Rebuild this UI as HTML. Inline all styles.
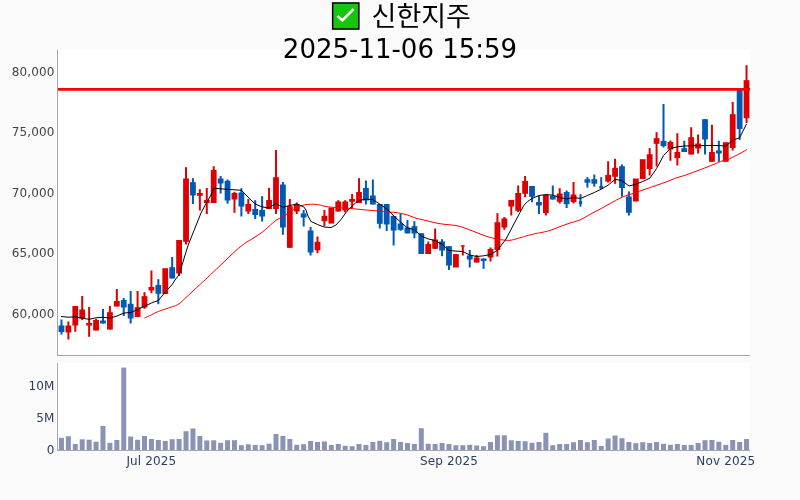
<!DOCTYPE html>
<html lang="ko"><head><meta charset="utf-8"><title>신한지주</title>
<style>
html,body{margin:0;padding:0;background:#fafafa;}
body{width:800px;height:500px;overflow:hidden;}
svg{display:block;}
text{font-family:"DejaVu Sans","Liberation Sans","Noto Sans CJK KR",sans-serif;}
.yt{font-size:12px;fill:#444;text-anchor:end;letter-spacing:0.12px;}
.vt{font-size:12px;fill:#2a3f5f;text-anchor:end;letter-spacing:0.12px;}
.xt{font-size:12px;fill:#2a3f5f;text-anchor:middle;letter-spacing:0.15px;}
.ti{font-size:26px;fill:#000;}
</style></head><body>
<svg width="800" height="500" viewBox="0 0 800 500">
<rect x="0" y="0" width="800" height="500" fill="#fafafa"/>
<rect x="56" y="50" width="694" height="306" fill="#fff"/>
<rect x="56" y="363" width="694" height="88" fill="#fff"/>

<g fill="#8a93b3">
<rect x="58.96" y="437.8" width="5" height="12.2"/>
<rect x="65.88" y="436.2" width="5" height="13.8"/>
<rect x="72.8" y="444" width="5" height="6"/>
<rect x="79.72" y="439.3" width="5" height="10.7"/>
<rect x="86.64" y="439.7" width="5" height="10.3"/>
<rect x="93.56" y="441.7" width="5" height="8.3"/>
<rect x="100.48" y="426" width="5" height="24"/>
<rect x="107.4" y="442.8" width="5" height="7.2"/>
<rect x="114.32" y="440" width="5" height="10"/>
<rect x="121.24" y="367.6" width="5" height="82.4"/>
<rect x="128.16" y="436.5" width="5" height="13.5"/>
<rect x="135.08" y="439.8" width="5" height="10.2"/>
<rect x="142" y="436" width="5" height="14"/>
<rect x="148.92" y="439" width="5" height="11"/>
<rect x="155.84" y="440" width="5" height="10"/>
<rect x="162.76" y="441" width="5" height="9"/>
<rect x="169.68" y="439.2" width="5" height="10.8"/>
<rect x="176.6" y="439" width="5" height="11"/>
<rect x="183.52" y="431.2" width="5" height="18.8"/>
<rect x="190.44" y="428.5" width="5" height="21.5"/>
<rect x="197.36" y="436" width="5" height="14"/>
<rect x="204.28" y="440.5" width="5" height="9.5"/>
<rect x="211.2" y="440.3" width="5" height="9.7"/>
<rect x="218.12" y="442.8" width="5" height="7.2"/>
<rect x="225.04" y="440.2" width="5" height="9.8"/>
<rect x="231.96" y="440.2" width="5" height="9.8"/>
<rect x="238.88" y="445.2" width="5" height="4.8"/>
<rect x="245.8" y="444.3" width="5" height="5.7"/>
<rect x="252.72" y="445" width="5" height="5"/>
<rect x="259.64" y="445.2" width="5" height="4.8"/>
<rect x="266.56" y="443.7" width="5" height="6.3"/>
<rect x="273.48" y="434" width="5" height="16"/>
<rect x="280.4" y="436" width="5" height="14"/>
<rect x="287.32" y="439" width="5" height="11"/>
<rect x="294.24" y="444.8" width="5" height="5.2"/>
<rect x="301.16" y="444.2" width="5" height="5.8"/>
<rect x="308.08" y="441" width="5" height="9"/>
<rect x="315" y="442" width="5" height="8"/>
<rect x="321.92" y="441.5" width="5" height="8.5"/>
<rect x="328.84" y="445" width="5" height="5"/>
<rect x="335.76" y="444" width="5" height="6"/>
<rect x="342.68" y="445.8" width="5" height="4.2"/>
<rect x="349.6" y="446.2" width="5" height="3.8"/>
<rect x="356.52" y="444" width="5" height="6"/>
<rect x="363.44" y="445" width="5" height="5"/>
<rect x="370.36" y="442" width="5" height="8"/>
<rect x="377.28" y="440.8" width="5" height="9.2"/>
<rect x="384.2" y="442.2" width="5" height="7.8"/>
<rect x="391.12" y="439" width="5" height="11"/>
<rect x="398.04" y="442" width="5" height="8"/>
<rect x="404.96" y="443" width="5" height="7"/>
<rect x="411.88" y="444" width="5" height="6"/>
<rect x="418.8" y="428.2" width="5" height="21.8"/>
<rect x="425.72" y="443.8" width="5" height="6.2"/>
<rect x="432.64" y="444" width="5" height="6"/>
<rect x="439.56" y="443" width="5" height="7"/>
<rect x="446.48" y="444" width="5" height="6"/>
<rect x="453.4" y="445.2" width="5" height="4.8"/>
<rect x="460.32" y="445.2" width="5" height="4.8"/>
<rect x="467.24" y="444.8" width="5" height="5.2"/>
<rect x="474.16" y="445.5" width="5" height="4.5"/>
<rect x="481.08" y="446.2" width="5" height="3.8"/>
<rect x="488" y="442" width="5" height="8"/>
<rect x="494.92" y="435.3" width="5" height="14.7"/>
<rect x="501.84" y="435.3" width="5" height="14.7"/>
<rect x="508.76" y="440.3" width="5" height="9.7"/>
<rect x="515.68" y="441" width="5" height="9"/>
<rect x="522.6" y="441.2" width="5" height="8.8"/>
<rect x="529.52" y="442.8" width="5" height="7.2"/>
<rect x="536.44" y="442" width="5" height="8"/>
<rect x="543.36" y="432.8" width="5" height="17.2"/>
<rect x="550.28" y="445.2" width="5" height="4.8"/>
<rect x="557.2" y="444" width="5" height="6"/>
<rect x="564.12" y="444" width="5" height="6"/>
<rect x="571.04" y="442.2" width="5" height="7.8"/>
<rect x="577.96" y="440" width="5" height="10"/>
<rect x="584.88" y="442.2" width="5" height="7.8"/>
<rect x="591.8" y="440" width="5" height="10"/>
<rect x="598.72" y="446" width="5" height="4"/>
<rect x="605.64" y="438.5" width="5" height="11.5"/>
<rect x="612.56" y="435.5" width="5" height="14.5"/>
<rect x="619.48" y="438.2" width="5" height="11.8"/>
<rect x="626.4" y="442" width="5" height="8"/>
<rect x="633.32" y="443.2" width="5" height="6.8"/>
<rect x="640.24" y="442.2" width="5" height="7.8"/>
<rect x="647.16" y="443" width="5" height="7"/>
<rect x="654.08" y="442" width="5" height="8"/>
<rect x="661" y="443.8" width="5" height="6.2"/>
<rect x="667.92" y="444.8" width="5" height="5.2"/>
<rect x="674.84" y="444" width="5" height="6"/>
<rect x="681.76" y="445" width="5" height="5"/>
<rect x="688.68" y="445" width="5" height="5"/>
<rect x="695.6" y="443" width="5" height="7"/>
<rect x="702.52" y="440.2" width="5" height="9.8"/>
<rect x="709.44" y="440" width="5" height="10"/>
<rect x="716.36" y="441.7" width="5" height="8.3"/>
<rect x="723.28" y="444.8" width="5" height="5.2"/>
<rect x="730.2" y="440" width="5" height="10"/>
<rect x="737.12" y="442" width="5" height="8"/>
<rect x="744.04" y="439" width="5" height="11"/>
</g>
<g fill="#a6a6a6"><rect x="57" y="50" width="1" height="306"/><rect x="57" y="355" width="693" height="1"/><rect x="57" y="363" width="1" height="88"/><rect x="57" y="450" width="693" height="1"/></g>
<g>
<rect x="60.46" y="319.5" width="2" height="15" fill="#0059b5"/>
<rect x="58.56" y="325.5" width="5.8" height="6.5" fill="#0059b5"/>
<rect x="67.38" y="321.5" width="2" height="18" fill="#dd0000"/>
<rect x="65.48" y="325.5" width="5.8" height="7" fill="#dd0000"/>
<rect x="74.3" y="306" width="2" height="25.8" fill="#dd0000"/>
<rect x="72.4" y="306" width="5.8" height="19.5" fill="#dd0000"/>
<rect x="81.22" y="296" width="2" height="24" fill="#dd0000"/>
<rect x="79.32" y="309.5" width="5.8" height="9" fill="#dd0000"/>
<rect x="88.14" y="307" width="2" height="29.8" fill="#dd0000"/>
<rect x="86.24" y="323" width="5.8" height="2.5" fill="#dd0000"/>
<rect x="95.06" y="319" width="2" height="11.5" fill="#dd0000"/>
<rect x="93.16" y="320" width="5.8" height="10.5" fill="#dd0000"/>
<rect x="101.98" y="309" width="2" height="14.5" fill="#0059b5"/>
<rect x="100.08" y="320.5" width="5.8" height="3" fill="#0059b5"/>
<rect x="108.9" y="306" width="2" height="23.5" fill="#dd0000"/>
<rect x="107" y="312.2" width="5.8" height="17.3" fill="#dd0000"/>
<rect x="115.82" y="289" width="2" height="17.5" fill="#dd0000"/>
<rect x="113.92" y="301" width="5.8" height="5.5" fill="#dd0000"/>
<rect x="122.74" y="298" width="2" height="18" fill="#0059b5"/>
<rect x="120.84" y="300" width="5.8" height="7.5" fill="#0059b5"/>
<rect x="129.66" y="291" width="2" height="32.5" fill="#0059b5"/>
<rect x="127.76" y="303.8" width="5.8" height="14.7" fill="#0059b5"/>
<rect x="136.58" y="291" width="2" height="26" fill="#dd0000"/>
<rect x="134.68" y="307.2" width="5.8" height="9.8" fill="#dd0000"/>
<rect x="143.5" y="292.2" width="2" height="16.6" fill="#dd0000"/>
<rect x="141.6" y="296.2" width="5.8" height="11.3" fill="#dd0000"/>
<rect x="150.42" y="270.5" width="2" height="22.7" fill="#dd0000"/>
<rect x="148.52" y="287" width="5.8" height="3.5" fill="#dd0000"/>
<rect x="157.34" y="279.2" width="2" height="25" fill="#0059b5"/>
<rect x="155.44" y="285" width="5.8" height="8.8" fill="#0059b5"/>
<rect x="162.36" y="268.2" width="5.8" height="25.8" fill="#dd0000"/>
<rect x="171.18" y="257" width="2" height="21.5" fill="#0059b5"/>
<rect x="169.28" y="267.2" width="5.8" height="11.3" fill="#0059b5"/>
<rect x="178.1" y="240" width="2" height="36" fill="#dd0000"/>
<rect x="176.2" y="240" width="5.8" height="33.5" fill="#dd0000"/>
<rect x="185.02" y="167.2" width="2" height="77.3" fill="#dd0000"/>
<rect x="183.12" y="178.5" width="5.8" height="63.3" fill="#dd0000"/>
<rect x="191.94" y="178.2" width="2" height="25.8" fill="#0059b5"/>
<rect x="190.04" y="182.2" width="5.8" height="13.3" fill="#0059b5"/>
<rect x="198.86" y="189.2" width="2" height="21.3" fill="#dd0000"/>
<rect x="196.96" y="193" width="5.8" height="2.8" fill="#dd0000"/>
<rect x="205.78" y="188" width="2" height="26" fill="#dd0000"/>
<rect x="203.88" y="200" width="5.8" height="3" fill="#dd0000"/>
<rect x="212.7" y="166.2" width="2" height="36.8" fill="#dd0000"/>
<rect x="210.8" y="170" width="5.8" height="33" fill="#dd0000"/>
<rect x="219.62" y="176" width="2" height="17.5" fill="#0059b5"/>
<rect x="217.72" y="178.5" width="5.8" height="5" fill="#0059b5"/>
<rect x="226.54" y="179.5" width="2" height="24.2" fill="#0059b5"/>
<rect x="224.64" y="180.8" width="5.8" height="19.7" fill="#0059b5"/>
<rect x="233.46" y="191.8" width="2" height="21" fill="#dd0000"/>
<rect x="231.56" y="193" width="5.8" height="6.5" fill="#dd0000"/>
<rect x="240.38" y="188.2" width="2" height="28.3" fill="#0059b5"/>
<rect x="238.48" y="192.5" width="5.8" height="14" fill="#0059b5"/>
<rect x="247.3" y="199" width="2" height="15" fill="#dd0000"/>
<rect x="245.4" y="204" width="5.8" height="7.5" fill="#dd0000"/>
<rect x="254.22" y="200.2" width="2" height="18.8" fill="#0059b5"/>
<rect x="252.32" y="209" width="5.8" height="6" fill="#0059b5"/>
<rect x="261.14" y="196.2" width="2" height="25.3" fill="#0059b5"/>
<rect x="259.24" y="210" width="5.8" height="6.5" fill="#0059b5"/>
<rect x="268.06" y="187.8" width="2" height="21.2" fill="#dd0000"/>
<rect x="266.16" y="200" width="5.8" height="9" fill="#dd0000"/>
<rect x="274.98" y="150" width="2" height="64" fill="#dd0000"/>
<rect x="273.08" y="177.2" width="5.8" height="31.8" fill="#dd0000"/>
<rect x="281.9" y="182" width="2" height="52.8" fill="#0059b5"/>
<rect x="280" y="184.5" width="5.8" height="43" fill="#0059b5"/>
<rect x="288.82" y="199" width="2" height="48.8" fill="#dd0000"/>
<rect x="286.92" y="206.2" width="5.8" height="41.6" fill="#dd0000"/>
<rect x="295.74" y="202.5" width="2" height="11.5" fill="#dd0000"/>
<rect x="293.84" y="204.5" width="5.8" height="7" fill="#dd0000"/>
<rect x="302.66" y="210" width="2" height="16.5" fill="#0059b5"/>
<rect x="300.76" y="213.5" width="5.8" height="4" fill="#0059b5"/>
<rect x="309.58" y="227" width="2" height="28.5" fill="#0059b5"/>
<rect x="307.68" y="230.5" width="5.8" height="22" fill="#0059b5"/>
<rect x="316.5" y="236.5" width="2" height="16.7" fill="#dd0000"/>
<rect x="314.6" y="241.8" width="5.8" height="8.5" fill="#dd0000"/>
<rect x="323.42" y="210" width="2" height="16" fill="#dd0000"/>
<rect x="321.52" y="215.8" width="5.8" height="5.4" fill="#dd0000"/>
<rect x="328.44" y="207.5" width="5.8" height="16.1" fill="#dd0000"/>
<rect x="337.26" y="200.2" width="2" height="11.3" fill="#dd0000"/>
<rect x="335.36" y="201.5" width="5.8" height="10" fill="#dd0000"/>
<rect x="344.18" y="200.2" width="2" height="12.3" fill="#dd0000"/>
<rect x="342.28" y="201.5" width="5.8" height="9" fill="#dd0000"/>
<rect x="351.1" y="194" width="2" height="14" fill="#dd0000"/>
<rect x="349.2" y="199" width="5.8" height="2.8" fill="#dd0000"/>
<rect x="358.02" y="178.2" width="2" height="24.8" fill="#dd0000"/>
<rect x="356.12" y="192" width="5.8" height="11" fill="#dd0000"/>
<rect x="364.94" y="180.5" width="2" height="24" fill="#0059b5"/>
<rect x="363.04" y="188" width="5.8" height="12.5" fill="#0059b5"/>
<rect x="371.86" y="179.5" width="2" height="25" fill="#0059b5"/>
<rect x="369.96" y="195.5" width="5.8" height="9" fill="#0059b5"/>
<rect x="378.78" y="204" width="2" height="24.5" fill="#0059b5"/>
<rect x="376.88" y="204" width="5.8" height="19.8" fill="#0059b5"/>
<rect x="385.7" y="204" width="2" height="27" fill="#0059b5"/>
<rect x="383.8" y="204" width="5.8" height="20.5" fill="#0059b5"/>
<rect x="392.62" y="216" width="2" height="29.5" fill="#0059b5"/>
<rect x="390.72" y="216" width="5.8" height="14.5" fill="#0059b5"/>
<rect x="399.54" y="214" width="2" height="16.8" fill="#0059b5"/>
<rect x="397.64" y="223.5" width="5.8" height="6.3" fill="#0059b5"/>
<rect x="406.46" y="220" width="2" height="13.4" fill="#0059b5"/>
<rect x="404.56" y="227.5" width="5.8" height="5.9" fill="#0059b5"/>
<rect x="413.38" y="221.2" width="2" height="17" fill="#0059b5"/>
<rect x="411.48" y="226.2" width="5.8" height="7.3" fill="#0059b5"/>
<rect x="418.4" y="233.2" width="5.8" height="20.8" fill="#0059b5"/>
<rect x="427.22" y="241.5" width="2" height="12.5" fill="#dd0000"/>
<rect x="425.32" y="244" width="5.8" height="10" fill="#dd0000"/>
<rect x="434.14" y="228.5" width="2" height="20.3" fill="#dd0000"/>
<rect x="432.24" y="239.5" width="5.8" height="9.3" fill="#dd0000"/>
<rect x="441.06" y="239.2" width="2" height="17" fill="#0059b5"/>
<rect x="439.16" y="241.5" width="5.8" height="9" fill="#0059b5"/>
<rect x="447.98" y="246.2" width="2" height="23.8" fill="#0059b5"/>
<rect x="446.08" y="246.2" width="5.8" height="19.3" fill="#0059b5"/>
<rect x="453" y="254" width="5.8" height="13.5" fill="#dd0000"/>
<rect x="461.82" y="245.4" width="2" height="10.1" fill="#dd0000"/>
<rect x="460.82" y="245.4" width="4" height="1.3" fill="#dd0000"/>
<rect x="468.74" y="250" width="2" height="17.5" fill="#0059b5"/>
<rect x="466.84" y="255.5" width="5.8" height="4" fill="#0059b5"/>
<rect x="475.66" y="255" width="2" height="7.5" fill="#dd0000"/>
<rect x="473.76" y="257.5" width="5.8" height="5" fill="#dd0000"/>
<rect x="482.58" y="258.5" width="2" height="10.3" fill="#0059b5"/>
<rect x="480.68" y="258.5" width="5.8" height="2.5" fill="#0059b5"/>
<rect x="489.5" y="247.5" width="2" height="14" fill="#dd0000"/>
<rect x="487.6" y="249" width="5.8" height="8.5" fill="#dd0000"/>
<rect x="496.42" y="213.2" width="2" height="43.3" fill="#dd0000"/>
<rect x="494.52" y="222.2" width="5.8" height="27.8" fill="#dd0000"/>
<rect x="503.34" y="217" width="2" height="12.8" fill="#dd0000"/>
<rect x="501.44" y="218.5" width="5.8" height="9" fill="#dd0000"/>
<rect x="510.26" y="200" width="2" height="15.5" fill="#dd0000"/>
<rect x="508.36" y="200" width="5.8" height="6.5" fill="#dd0000"/>
<rect x="517.18" y="185.5" width="2" height="26.5" fill="#dd0000"/>
<rect x="515.28" y="193" width="5.8" height="17.8" fill="#dd0000"/>
<rect x="524.1" y="176" width="2" height="21.2" fill="#dd0000"/>
<rect x="522.2" y="181" width="5.8" height="12.8" fill="#dd0000"/>
<rect x="531.02" y="186" width="2" height="16.2" fill="#0059b5"/>
<rect x="529.12" y="186" width="5.8" height="10.8" fill="#0059b5"/>
<rect x="537.94" y="196" width="2" height="18" fill="#0059b5"/>
<rect x="536.04" y="202" width="5.8" height="3.5" fill="#0059b5"/>
<rect x="544.86" y="195" width="2" height="20.5" fill="#dd0000"/>
<rect x="542.96" y="195" width="5.8" height="18" fill="#dd0000"/>
<rect x="551.78" y="185.5" width="2" height="14" fill="#0059b5"/>
<rect x="549.88" y="195.7" width="5.8" height="3.8" fill="#0059b5"/>
<rect x="558.7" y="188.2" width="2" height="15.3" fill="#dd0000"/>
<rect x="556.8" y="193.5" width="5.8" height="8.3" fill="#dd0000"/>
<rect x="565.62" y="190.5" width="2" height="17.5" fill="#0059b5"/>
<rect x="563.72" y="192" width="5.8" height="12.2" fill="#0059b5"/>
<rect x="572.54" y="182" width="2" height="21.5" fill="#dd0000"/>
<rect x="570.64" y="194.5" width="5.8" height="7.5" fill="#dd0000"/>
<rect x="579.46" y="194.2" width="2" height="12.5" fill="#0059b5"/>
<rect x="578.86" y="201.2" width="3.2" height="2.9" fill="#0059b5"/>
<rect x="586.38" y="177.1" width="2" height="10.5" fill="#0059b5"/>
<rect x="584.48" y="179.2" width="5.8" height="3.5" fill="#0059b5"/>
<rect x="593.3" y="174.5" width="2" height="12.2" fill="#0059b5"/>
<rect x="591.4" y="179.2" width="5.8" height="4.5" fill="#0059b5"/>
<rect x="600.22" y="177.2" width="2" height="11.8" fill="#0059b5"/>
<rect x="599.32" y="186" width="3.8" height="2.5" fill="#0059b5"/>
<rect x="607.14" y="161.2" width="2" height="21.3" fill="#dd0000"/>
<rect x="605.24" y="175" width="5.8" height="6.5" fill="#dd0000"/>
<rect x="614.06" y="158.8" width="2" height="25" fill="#dd0000"/>
<rect x="612.16" y="167.8" width="5.8" height="9" fill="#dd0000"/>
<rect x="620.98" y="164.5" width="2" height="32.2" fill="#0059b5"/>
<rect x="619.08" y="166.2" width="5.8" height="21.8" fill="#0059b5"/>
<rect x="627.9" y="191.5" width="2" height="24" fill="#0059b5"/>
<rect x="626" y="196.5" width="5.8" height="16.3" fill="#0059b5"/>
<rect x="632.92" y="178.5" width="5.8" height="23" fill="#dd0000"/>
<rect x="639.84" y="159.2" width="5.8" height="19.8" fill="#dd0000"/>
<rect x="648.66" y="148.1" width="2" height="27.4" fill="#dd0000"/>
<rect x="646.76" y="154.2" width="5.8" height="14.8" fill="#dd0000"/>
<rect x="655.58" y="132.2" width="2" height="34.3" fill="#dd0000"/>
<rect x="653.68" y="138.2" width="5.8" height="5.6" fill="#dd0000"/>
<rect x="662.5" y="104" width="2" height="43.5" fill="#0059b5"/>
<rect x="660.6" y="141" width="5.8" height="5" fill="#0059b5"/>
<rect x="669.42" y="140.5" width="2" height="20.3" fill="#dd0000"/>
<rect x="667.52" y="142" width="5.8" height="7.5" fill="#dd0000"/>
<rect x="676.34" y="133.2" width="2" height="32.3" fill="#dd0000"/>
<rect x="674.44" y="152" width="5.8" height="6" fill="#dd0000"/>
<rect x="683.26" y="140.8" width="2" height="11.2" fill="#0059b5"/>
<rect x="681.36" y="148.2" width="5.8" height="3.8" fill="#0059b5"/>
<rect x="690.18" y="127.2" width="2" height="27.3" fill="#dd0000"/>
<rect x="688.28" y="137.2" width="5.8" height="17.3" fill="#dd0000"/>
<rect x="697.1" y="134.5" width="2" height="19" fill="#dd0000"/>
<rect x="695.2" y="143.5" width="5.8" height="5" fill="#dd0000"/>
<rect x="704.02" y="119.2" width="2" height="35.3" fill="#0059b5"/>
<rect x="702.12" y="119.2" width="5.8" height="20.3" fill="#0059b5"/>
<rect x="710.94" y="124.8" width="2" height="37" fill="#dd0000"/>
<rect x="709.04" y="152" width="5.8" height="9.8" fill="#dd0000"/>
<rect x="717.86" y="140.8" width="2" height="21" fill="#0059b5"/>
<rect x="715.96" y="150.5" width="5.8" height="3" fill="#0059b5"/>
<rect x="722.88" y="142.2" width="5.8" height="19.6" fill="#dd0000"/>
<rect x="731.7" y="102" width="2" height="48.5" fill="#dd0000"/>
<rect x="729.8" y="114.2" width="5.8" height="33.8" fill="#dd0000"/>
<rect x="738.62" y="88.5" width="2" height="51.5" fill="#0059b5"/>
<rect x="736.72" y="88.5" width="5.8" height="40.5" fill="#0059b5"/>
<rect x="745.54" y="65.2" width="2" height="58" fill="#dd0000"/>
<rect x="743.64" y="80.2" width="5.8" height="38" fill="#dd0000"/>
</g>
<path d="M144.5,318C145.65,317.47 149.1,315.88 151.4,314.8C153.7,313.72 155.98,312.47 158.3,311.5C160.62,310.53 162.98,309.78 165.3,309C167.62,308.22 169.9,307.67 172.2,306.8C174.5,305.93 176.8,305.35 179.1,303.8C181.4,302.25 183.68,299.63 186,297.5C188.32,295.37 190.67,293.17 193,291C195.33,288.83 197.92,286.42 200,284.5C202.08,282.58 202.83,282 205.5,279.5C208.17,277 212.58,272.75 216,269.5C219.42,266.25 222.67,263.17 226,260C229.33,256.83 232.67,253.4 236,250.5C239.33,247.6 243,244.73 246,242.6C249,240.47 251.33,239.42 254,237.7C256.67,235.98 259.5,234.2 262,232.3C264.5,230.4 266.67,228.3 269,226.3C271.33,224.3 273.67,221.93 276,220.3C278.33,218.67 280.67,217.85 283,216.5C285.33,215.15 287.72,213.7 290,212.2C292.28,210.7 294.42,208.7 296.7,207.5C298.98,206.3 301.38,205.53 303.7,205C306.02,204.47 308.3,204.38 310.6,204.3C312.9,204.22 314.93,204.13 317.5,204.5C320.07,204.87 322.92,206 326,206.5C329.08,207 331.83,207.17 336,207.5C340.17,207.83 346,208.08 351,208.5C356,208.92 361,209.55 366,210C371,210.45 377.67,210.9 381,211.2C384.33,211.5 383.5,211.57 386,211.8C388.5,212.03 392.67,212.15 396,212.6C399.33,213.05 402.67,213.57 406,214.5C409.33,215.43 412.67,217.2 416,218.2C419.33,219.2 422.67,219.7 426,220.5C429.33,221.3 432.67,222.33 436,223C439.33,223.67 442.67,224.08 446,224.5C449.33,224.92 452.67,224.83 456,225.5C459.33,226.17 462.67,227.37 466,228.5C469.33,229.63 472.67,231.02 476,232.3C479.33,233.58 482.67,235.12 486,236.2C489.33,237.28 493,238.15 496,238.8C499,239.45 501.5,239.87 504,240.1C506.5,240.33 508.17,240.63 511,240.2C513.83,239.77 518.5,238.2 521,237.5C523.5,236.8 523.5,236.67 526,236C528.5,235.33 533.5,234.07 536,233.5C538.5,232.93 538.67,233.1 541,232.6C543.33,232.1 546.83,231.5 550,230.5C553.17,229.5 556.67,227.85 560,226.6C563.33,225.35 566.67,224.1 570,223C573.33,221.9 576.67,221.43 580,220C583.33,218.57 586.67,216.2 590,214.4C593.33,212.6 596.67,211 600,209.2C603.33,207.4 606.33,205.6 610,203.6C613.67,201.6 617.67,199.05 622,197.2C626.33,195.35 632.5,193.7 636,192.5C639.5,191.3 639.67,191.17 643,190C646.33,188.83 652.17,186.83 656,185.5C659.83,184.17 662.67,183.25 666,182C669.33,180.75 672.67,179.17 676,178C679.33,176.83 682.67,176.12 686,175C689.33,173.88 692.67,172.55 696,171.3C699.33,170.05 703,168.67 706,167.5C709,166.33 711.33,165.38 714,164.3C716.67,163.22 720,161.67 722,161C724,160.33 724.67,160.72 726,160.3C727.33,159.88 727.67,159.63 730,158.5C732.33,157.37 737.17,155 740,153.5C742.83,152 745.83,150.17 747,149.5" fill="none" stroke="#ff0000" stroke-width="1" stroke-linejoin="round"/>
<path d="M61,316.5L68,317.2L75,316.8L82.2,318.2L89,319.3L96,317.8L103,317.3L110,318L117,316L124,313L130.7,312.5L137.6,309.5L144.5,306.2L151.4,303L158.3,300.5L165.3,292L172.2,284.5L175,280L179.1,274.7L186,252L188,245.5L194,230.5L201,213L206,203.5L211,195L213.7,188.3L241.4,190.3L246,195L251,200L255.2,204L262,206.8L269,208L272.5,205.5L276,203.5L279.5,205.5L283,207.2L289.8,205.5L296.7,204L303.7,206.8L306,210L308,216L311,221.5L317.5,224.5L324,227L331,227.5L336,225L341,219.5L346,212.5L351,207L356,202.5L361,200L366,199.3L372,199.3L376,201.5L381,205L386,208.5L390,212L393.6,216L400.5,222L407.5,228L414.4,229.8L418,233L421.3,236L428.2,238.9L435,240.6L442,244.2L449,250.5L456,251.1L462.8,251.5L469.7,255L476.7,256.5L483.6,255.8L490.5,254.5L497.4,250.3L504.3,241.3L506,239L511,229.5L516,220L520,212.5L524,205.2L528,201.2L532,198.5L539,195.5L546,194.5L552.8,195.2L559.7,197.5L566.6,199L573.5,197.5L580.5,198.5L587.4,195.5L594.3,192.5L601.2,189.2L608.1,185.2L615.1,179.3L622,180.7L629,186L636,184.2L642.7,181.5L649.7,178.3L656.6,168.5L663.5,155.5L670.4,148.5L677.3,146.8L684.3,146L691.2,145.8L698,145.6L705,145.6L712,145.5L719,145.5L725.8,146.2L732.7,140.2L739.6,137.8L746.5,124" fill="none" stroke="#000" stroke-width="1" stroke-linejoin="round"/>
<rect x="58" y="88" width="692" height="2.75" fill="#ff0000"/>
<text class="yt" x="54.5" y="75.7">80,000</text>
<text class="yt" x="54.5" y="136.2">75,000</text>
<text class="yt" x="54.5" y="196.7">70,000</text>
<text class="yt" x="54.5" y="257.2">65,000</text>
<text class="yt" x="54.5" y="317.7">60,000</text>
<text class="vt" x="54.5" y="390.4">10M</text>
<text class="vt" x="54.5" y="422.4">5M</text>
<text class="vt" x="54.5" y="454">0</text>
<text class="xt" x="151.4" y="465">Jul 2025</text>
<text class="xt" x="449" y="465">Sep 2025</text>
<text class="xt" x="725.8" y="465">Nov 2025</text>
<g><rect x="332.65" y="2.95" width="26.2" height="26.1" fill="#16c60c" stroke="#000" stroke-width="1.5"/><path d="M337.6,15.9 L342.3,20.4 L353.5,9.2" fill="none" stroke="#fff" stroke-width="2.5" stroke-linecap="butt" stroke-linejoin="miter"/></g>
<text class="ti" x="371.6" y="25.6" style="font-size:27px">신한지주</text>
<text class="ti" x="400" y="57.8" text-anchor="middle">2025-11-06 15:59</text>
</svg></body></html>
